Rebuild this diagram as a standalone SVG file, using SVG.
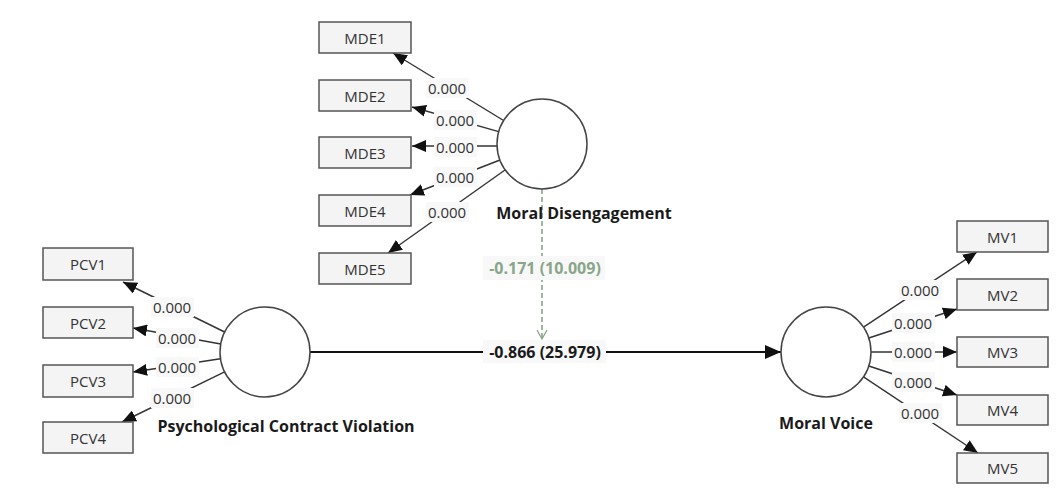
<svg xmlns="http://www.w3.org/2000/svg" width="1059" height="492" viewBox="0 0 1059 492">
<defs>
<style>
.box{fill:#f4f4f4;stroke:#555;stroke-width:1.5}
.lv{fill:#fff;stroke:#444;stroke-width:1.5}
.bt{font-family:"Open Sans","Noto Sans",sans-serif;font-size:15px;fill:#333;text-anchor:middle;dominant-baseline:central}
.ln{stroke:#333;stroke-width:1.4;fill:none}
.lb{fill:#f8f8f8}
.lt{font-family:"Open Sans","Noto Sans",sans-serif;font-size:15px;fill:#333;text-anchor:middle;dominant-baseline:central}
.nm{font-family:"Open Sans","Noto Sans",sans-serif;font-size:16px;font-weight:bold;fill:#1a1a1a;text-anchor:middle;dominant-baseline:central}
</style>
<marker id="ah" markerUnits="userSpaceOnUse" markerWidth="14" markerHeight="12" viewBox="0 0 14 12" refX="14" refY="6" orient="auto"><path d="M0,0 L14,6 L0,12 Z" fill="#111"/></marker>
<marker id="ahm" markerUnits="userSpaceOnUse" markerWidth="16" markerHeight="14" viewBox="0 0 16 14" refX="16" refY="7" orient="auto"><path d="M0,0 L16,7 L0,14 Z" fill="#111"/></marker>
</defs>
<rect width="1059" height="492" fill="#fff"/>
<g id="connectors">
<line class="ln" x1="503.6" y1="120.5" x2="393" y2="53" marker-end="url(#ah)"/>
<line class="ln" x1="498.7" y1="131.7" x2="412" y2="107" marker-end="url(#ah)"/>
<line class="ln" x1="497" y1="146" x2="412" y2="146" marker-end="url(#ah)"/>
<line class="ln" x1="500" y1="160" x2="410" y2="195" marker-end="url(#ah)"/>
<line class="ln" x1="505" y1="170" x2="388" y2="253" marker-end="url(#ah)"/>
<line class="ln" x1="224.6" y1="332" x2="123" y2="282" marker-end="url(#ah)"/>
<line class="ln" x1="220.7" y1="344" x2="133" y2="328" marker-end="url(#ah)"/>
<line class="ln" x1="220.5" y1="358.7" x2="133" y2="372" marker-end="url(#ah)"/>
<line class="ln" x1="224.6" y1="371.8" x2="122" y2="422" marker-end="url(#ah)"/>
<line class="ln" x1="863.5" y1="327.2" x2="977" y2="252" marker-end="url(#ah)"/>
<line class="ln" x1="868.8" y1="338" x2="957" y2="309" marker-end="url(#ah)"/>
<line class="ln" x1="871" y1="352" x2="957" y2="352" marker-end="url(#ah)"/>
<line class="ln" x1="868.8" y1="366" x2="957" y2="395" marker-end="url(#ah)"/>
<line class="ln" x1="863.5" y1="376.9" x2="978" y2="453" marker-end="url(#ah)"/>
<line x1="310" y1="352" x2="781" y2="352" stroke="#111" stroke-width="2" marker-end="url(#ahm)"/>
<line x1="542" y1="189" x2="542" y2="338" stroke="#88a688" stroke-width="1.6" stroke-dasharray="5,3"/>
<path d="M537,330 L542,339 L547,330" fill="none" stroke="#88a688" stroke-width="1.3"/>
<g id="labels">
<rect class="lb" x="426" y="78" width="43" height="20"/><text class="lt" x="447" y="88">0.000</text>
<rect class="lb" x="434" y="110" width="43" height="20"/><text class="lt" x="455" y="120">0.000</text>
<rect class="lb" x="434" y="137" width="43" height="20"/><text class="lt" x="455" y="147">0.000</text>
<rect class="lb" x="434" y="167" width="43" height="20"/><text class="lt" x="455" y="177">0.000</text>
<rect class="lb" x="426" y="202" width="43" height="20"/><text class="lt" x="447" y="212">0.000</text>
<rect class="lb" x="151" y="297" width="43" height="20"/><text class="lt" x="172" y="307">0.000</text>
<rect class="lb" x="156" y="328" width="43" height="20"/><text class="lt" x="177" y="338">0.000</text>
<rect class="lb" x="156" y="357" width="43" height="20"/><text class="lt" x="177" y="367">0.000</text>
<rect class="lb" x="151" y="388" width="43" height="20"/><text class="lt" x="172" y="398">0.000</text>
<rect class="lb" x="899" y="280" width="43" height="20"/><text class="lt" x="920" y="290">0.000</text>
<rect class="lb" x="892" y="313" width="43" height="20"/><text class="lt" x="913" y="323">0.000</text>
<rect class="lb" x="892" y="342" width="43" height="20"/><text class="lt" x="913" y="352">0.000</text>
<rect class="lb" x="892" y="372" width="43" height="20"/><text class="lt" x="913" y="382">0.000</text>
<rect class="lb" x="899" y="403" width="43" height="20"/><text class="lt" x="920" y="413">0.000</text>
<rect class="lb" x="483" y="340" width="123" height="23"/><text class="nm" x="545" y="352">-0.866 (25.979)</text>
<rect class="lb" x="483" y="256" width="122" height="24"/><text class="nm" x="545" y="268" style="fill:#88a688">-0.171 (10.009)</text>
</g>
</g>
<g id="MDE"><circle class="lv" cx="542" cy="144" r="45"/><text class="nm" x="584" y="213">Moral Disengagement</text></g>
<g id="PCV"><circle class="lv" cx="265" cy="352" r="45"/><text class="nm" x="286" y="426">Psychological Contract Violation</text></g>
<g id="MV"><circle class="lv" cx="826" cy="352" r="45"/><text class="nm" x="826" y="423">Moral Voice</text></g>
<g id="MDE1"><rect class="box" x="319" y="22" width="92" height="31"/><text class="bt" x="365" y="37.5">MDE1</text></g>
<g id="MDE2"><rect class="box" x="319" y="80" width="92" height="31"/><text class="bt" x="365" y="95.5">MDE2</text></g>
<g id="MDE3"><rect class="box" x="319" y="137" width="92" height="31"/><text class="bt" x="365" y="152.5">MDE3</text></g>
<g id="MDE4"><rect class="box" x="319" y="195" width="92" height="31"/><text class="bt" x="365" y="210.5">MDE4</text></g>
<g id="MDE5"><rect class="box" x="319" y="253" width="92" height="31"/><text class="bt" x="365" y="268.5">MDE5</text></g>
<g id="PCV1"><rect class="box" x="43" y="248" width="90" height="32"/><text class="bt" x="88" y="264">PCV1</text></g>
<g id="PCV2"><rect class="box" x="43" y="307" width="90" height="31"/><text class="bt" x="88" y="322.5">PCV2</text></g>
<g id="PCV3"><rect class="box" x="43" y="365" width="90" height="32"/><text class="bt" x="88" y="381">PCV3</text></g>
<g id="PCV4"><rect class="box" x="43" y="422" width="90" height="31"/><text class="bt" x="88" y="437.5">PCV4</text></g>
<g id="MV1"><rect class="box" x="957" y="221" width="91" height="31"/><text class="bt" x="1002.5" y="236.5">MV1</text></g>
<g id="MV2"><rect class="box" x="957" y="279" width="91" height="31"/><text class="bt" x="1002.5" y="294.5">MV2</text></g>
<g id="MV3"><rect class="box" x="957" y="337" width="91" height="30"/><text class="bt" x="1002.5" y="352">MV3</text></g>
<g id="MV4"><rect class="box" x="957" y="395" width="91" height="30"/><text class="bt" x="1002.5" y="410">MV4</text></g>
<g id="MV5"><rect class="box" x="957" y="453" width="91" height="30"/><text class="bt" x="1002.5" y="468">MV5</text></g>
</svg>
